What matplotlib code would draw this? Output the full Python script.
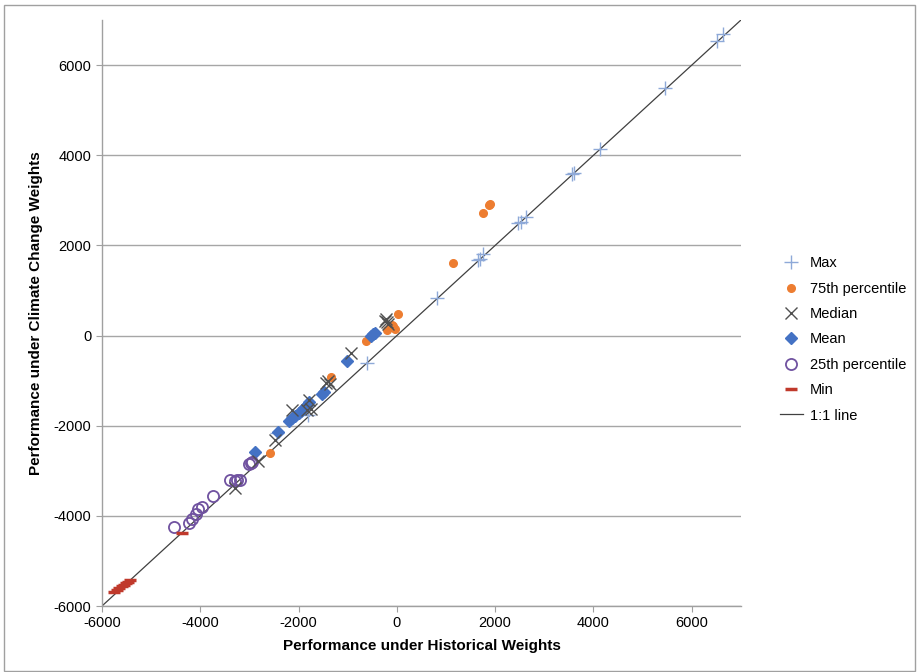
import matplotlib
matplotlib.use("Agg")
import matplotlib.pyplot as plt
from matplotlib.patches import Rectangle

plt.rcParams['font.family'] = ['Liberation Sans', 'DejaVu Sans']

# ---- data ----
max_x = [6630, 6510, 5450, 4130, 3560, 3600, 2460, 2520, 2620, 1650, 1700, 1750, 810, -600, -2440, -1800]
max_y = [6690, 6530, 5490, 4130, 3580, 3610, 2490, 2530, 2640, 1670, 1700, 1800, 840, -600, -2160, -1760]

p75_x = [1900, 1870, 1750, 1150, 20, -30, -80, -150, -200, -100, -620, -1340, -2590]
p75_y = [2920, 2890, 2710, 1620, 480, 150, 220, 180, 130, 230, -130, -930, -2600]

med_x = [-3300, -2830, -2480, -2140, -1830, -1780, -1750, -1450, -1400, -1360, -930, -250, -210, -180, -230]
med_y = [-3380, -2790, -2310, -1650, -1650, -1430, -1640, -1050, -1000, -1080, -380, 330, 290, 260, 360]

mean_x = [-2890, -2420, -2200, -2130, -2070, -2000, -1950, -1880, -1820, -1780, -1520, -1480, -1020, -530, -480, -450]
mean_y = [-2580, -2130, -1900, -1830, -1780, -1720, -1670, -1600, -1530, -1480, -1300, -1250, -570, -20, 30, 60]

p25_x = [-4530, -4230, -4170, -4090, -4050, -3970, -3740, -3400, -3300, -3250, -3200, -2970, -2950, -3000]
p25_y = [-4240, -4160, -4070, -3960, -3840, -3800, -3560, -3200, -3230, -3210, -3200, -2820, -2800, -2850]

min_x = [-5760, -5700, -5650, -5600, -5560, -5520, -5480, -5420, -4380]
min_y = [-5700, -5650, -5600, -5560, -5530, -5500, -5460, -5420, -4380]

line_x = [-6000, 7000]
line_y = [-6000, 7000]

xticks = [-6000, -4000, -2000, 0, 2000, 4000, 6000]
yticks = [-6000, -4000, -2000, 0, 2000, 4000, 6000]

# ---- figure ----
fig = plt.figure(figsize=(9.17, 6.72), dpi=100)
fig.patches.append(Rectangle((0.004, 0.002), 0.994, 0.99, transform=fig.transFigure,
                             fill=False, edgecolor='#A0A0A0', linewidth=1.0))
ax = fig.add_axes([0.1112, 0.0982, 0.6968, 0.872])

ax.plot(max_x, max_y, linestyle='none', marker='+', markersize=10, markeredgewidth=1.0,
        color='#8EA9D8', label='Max', zorder=3)
ax.plot(p75_x, p75_y, linestyle='none', marker='o', markersize=5.5,
        color='#ED7D31', markeredgecolor='#ED7D31', label='75th percentile', zorder=3)
ax.plot(med_x, med_y, linestyle='none', marker='x', markersize=8, markeredgewidth=1.0,
        color='#505050', label='Median', zorder=4)
ax.plot(mean_x, mean_y, linestyle='none', marker='D', markersize=6.5,
        color='#4472C4', markeredgecolor='#4472C4', label='Mean', zorder=3)
ax.plot(p25_x, p25_y, linestyle='none', marker='o', markersize=8, markerfacecolor='none',
        markeredgewidth=1.3, markeredgecolor='#7052A0', label='25th percentile', zorder=3)
ax.plot(min_x, min_y, linestyle='none', marker='_', markersize=8, markeredgewidth=2.5,
        color='#C0392B', label='Min', zorder=3)
ax.plot(line_x, line_y, color='#404040', linewidth=0.9, label='1:1 line', zorder=2)

ax.set_xlim(-6000, 7000)
ax.set_ylim(-6000, 7000)
ax.set_xticks(xticks)
ax.set_yticks(yticks)
ax.set_xticklabels([str(v) for v in xticks])
ax.set_yticklabels([str(v) for v in yticks])
ax.tick_params(axis='both', labelsize=10.5, colors='#000000', length=4, width=0.8,
               direction='out')
ax.tick_params(axis='both', color='#A0A0A0')
ax.yaxis.grid(True, color='#A6A6A6', linewidth=1.0)
ax.set_axisbelow(True)
for s in ['top', 'right']:
    ax.spines[s].set_visible(False)
for s in ['left', 'bottom']:
    ax.spines[s].set_color('#A0A0A0')
    ax.spines[s].set_linewidth(1.0)

ax.set_xlabel('Performance under Historical Weights', fontsize=11, fontweight='bold', labelpad=6)
ax.set_ylabel('Performance under Climate Change Weights', fontsize=11, fontweight='bold', labelpad=8)

leg = ax.legend(loc='center left', bbox_to_anchor=(1.04, 0.455), frameon=False, fontsize=10.5,
                labelspacing=0.78, handlelength=1.6, handletextpad=0.5)

fig.savefig('out.png', dpi=100)
